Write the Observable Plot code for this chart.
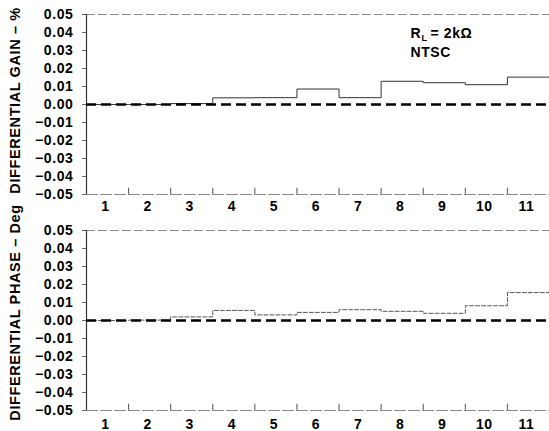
<!DOCTYPE html>
<html>
<head>
<meta charset="utf-8">
<script src="https://cdn.jsdelivr.net/npm/d3@7"></script>
<script src="https://cdn.jsdelivr.net/npm/@observablehq/plot@0.6"></script>
<style>
  body { margin: 0; background: #fff; }
  #chart svg { display: block; overflow: visible; }
  #chart svg text { letter-spacing: 0.6px; }
</style>
</head>
<body>
<div id="chart"></div>
<script>
const categories = [1, 2, 3, 4, 5, 6, 7, 8, 9, 10, 11];
const gainValues = [0.0, 0.0, 0.0005, 0.0037, 0.0038, 0.0086, 0.0038, 0.0129, 0.0121, 0.0110, 0.0152];
const phaseValues = [0.0, 0.0002, 0.0020, 0.0056, 0.0031, 0.0045, 0.0060, 0.0051, 0.0040, 0.0082, 0.0155];
const yTicks = [0.05, 0.04, 0.03, 0.02, 0.01, 0.0, -0.01, -0.02, -0.03, -0.04, -0.05];
const gainLabel = "DIFFERENTIAL GAIN – %";
const phaseLabel = "DIFFERENTIAL PHASE – Deg";
const annotationR = "R";
const annotationSub = "L";
const annotationRest = "= 2kΩ";
const annotationStd = "NTSC";

const FONT = "'Liberation Sans', Arial, Helvetica, sans-serif";

function stepPoints(values) {
  const pts = values.map((v, i) => ({x: categories[i] - 0.5, y: v}));
  pts.push({x: categories[categories.length - 1] + 0.5, y: values[values.length - 1]});
  return pts;
}

function panel({values, label, height, marginTop, marginBottom, tickPad, lineStyle, annotate, titleDy}) {
  const boundaries = categories.slice(0, -1).map(c => c + 0.5);
  const marks = [
    Plot.ruleY([0.05], {stroke: "#8a8a8a", strokeWidth: 1, strokeDasharray: "9,3"}),
    Plot.ruleY([-0.05], {stroke: "#8a8a8a", strokeWidth: 1, strokeDasharray: "12,2"}),
    Plot.ruleX([0.5], {stroke: "#333", strokeWidth: 1.2}),
    Plot.ruleX(boundaries, {y1: -0.05, y2: -0.0465, stroke: "#555"}),
    Plot.line(stepPoints(values), {x: "x", y: "y", curve: "step-after", stroke: lineStyle.stroke, strokeWidth: 1, strokeDasharray: lineStyle.dash}),
    Plot.ruleY([0], {stroke: "#000", strokeWidth: 2.5, strokeDasharray: "10,5"}),
    Plot.axisY({ticks: yTicks, tickSize: 4, tickPadding: 9, tickFormat: d3.format(".2f"), label: null, stroke: "#666"}),
    Plot.axisX({ticks: categories, tickSize: 0, tickPadding: tickPad, tickFormat: d => String(d), label: null, dx: -2}),
    Plot.text([label], {text: d => d, frameAnchor: "left", dx: 15 - 86, dy: titleDy, rotate: -90, textAnchor: "middle", lineAnchor: "middle", fontSize: 14.5, fontWeight: "bold"})
  ];
  if (annotate) {
    marks.push(
      Plot.text([annotationR], {text: d => d, frameAnchor: "top-left", dx: 324, dy: 19, textAnchor: "start", lineAnchor: "middle", fontSize: 14, fontWeight: "bold"}),
      Plot.text([annotationSub], {text: d => d, frameAnchor: "top-left", dx: 335, dy: 24, textAnchor: "start", lineAnchor: "middle", fontSize: 9, fontWeight: "bold"}),
      Plot.text([annotationRest], {text: d => d, frameAnchor: "top-left", dx: 344, dy: 19, textAnchor: "start", lineAnchor: "middle", fontSize: 14, fontWeight: "bold"}),
      Plot.text([annotationStd], {text: d => d, frameAnchor: "top-left", dx: 324, dy: 38, textAnchor: "start", lineAnchor: "middle", fontSize: 14, fontWeight: "bold"})
    );
  }
  return Plot.plot({
    width: 549,
    height,
    marginTop,
    marginBottom,
    marginLeft: 86,
    marginRight: 0,
    x: {domain: [0.5, 11.5]},
    y: {domain: [-0.05, 0.05]},
    style: {fontFamily: FONT, fontSize: "14px", fontWeight: "bold", color: "#000", background: "transparent", overflow: "visible"},
    marks
  });
}

const chart = document.getElementById("chart");
chart.append(panel({
  values: gainValues, label: gainLabel, height: 215, marginTop: 14, marginBottom: 21, tickPad: 7,
  lineStyle: {stroke: "#333", dash: null}, annotate: true, titleDy: -4
}));
chart.append(panel({
  values: phaseValues, label: phaseLabel, height: 216, marginTop: 15, marginBottom: 21, tickPad: 9,
  lineStyle: {stroke: "#555", dash: "4,2"}, annotate: false, titleDy: -8
}));
</script>
</body>
</html>
